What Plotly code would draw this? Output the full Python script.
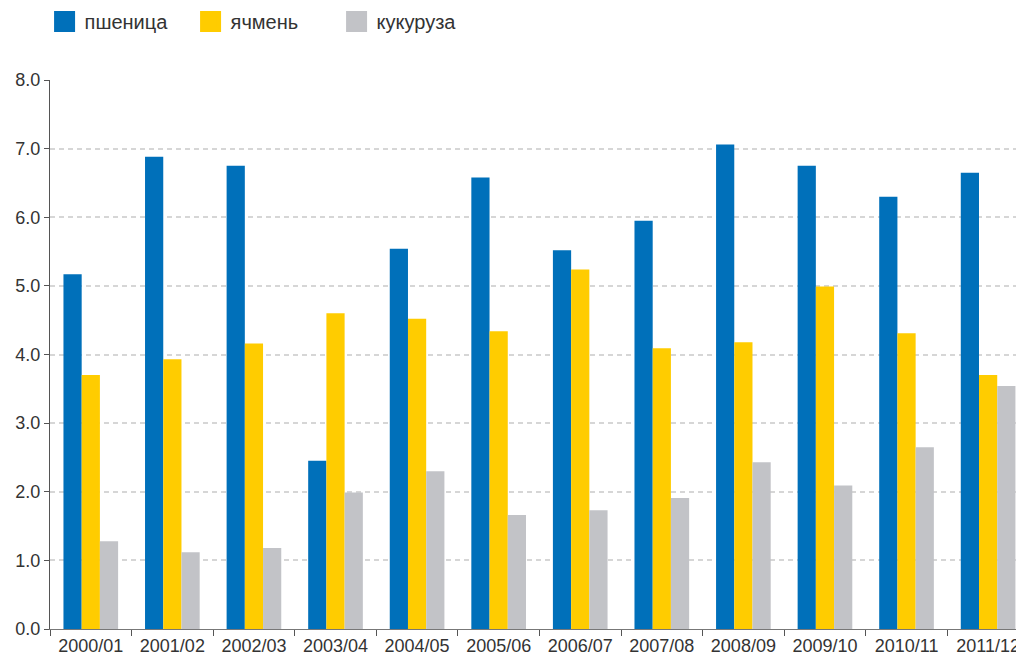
import plotly.graph_objects as go

seasons = ["2000/01", "2001/02", "2002/03", "2003/04", "2004/05", "2005/06",
           "2006/07", "2007/08", "2008/09", "2009/10", "2010/11", "2011/12"]
wheat = [5.17, 6.88, 6.75, 2.45, 5.54, 6.58, 5.52, 5.95, 7.06, 6.75, 6.30, 6.65]
barley = [3.70, 3.93, 4.16, 4.60, 4.52, 4.34, 5.24, 4.09, 4.18, 4.99, 4.31, 3.70]
corn = [1.28, 1.12, 1.18, 1.99, 2.30, 1.66, 1.73, 1.91, 2.43, 2.09, 2.65, 3.54]

names = ["пшеница", "ячмень", "кукуруза"]
colors = ["#0070BA", "#FFCC00", "#C2C3C7"]
series = [wheat, barley, corn]

FONT = "Liberation Sans, Arial, sans-serif"

fig = go.Figure()
for name, vals, col in zip(names, series, colors):
    fig.add_trace(go.Bar(x=seasons, y=vals, name=name, marker=dict(color=col, line=dict(width=0)),
                         showlegend=False, legendgroup=name))
# legend entries with larger square swatches
for name, col in zip(names, colors):
    fig.add_trace(go.Scatter(x=[None], y=[None], mode="markers", name=name, legendgroup=name,
                             marker=dict(symbol="square", size=16, color=col,
                                         line=dict(width=5, color=col))))

fig.update_layout(
    width=1016, height=655,
    margin=dict(l=42, r=0, t=72, b=34, autoexpand=False),
    paper_bgcolor="white", plot_bgcolor="white",
    barmode="group", bargap=0.33, bargroupgap=0,
    font=dict(family=FONT, size=18, color="#333333"),
    legend=dict(orientation="h", xref="container", yref="paper", x=0.036, y=1.142,
                xanchor="left", yanchor="top", font=dict(size=20, color="#333333"),
                entrywidth=101, entrywidthmode="pixels", bgcolor="rgba(0,0,0,0)",
                itemsizing="trace", traceorder="normal"),
    xaxis=dict(type="category", range=[-0.5, 11.44], tickson="boundaries", ticks="outside",
               ticklen=6, tickcolor="#555555", showline=True, linecolor="#777777", linewidth=1,
               showgrid=False, automargin=False, tickfont=dict(size=18, color="#333333")),
    yaxis=dict(range=[0, 8], dtick=1, tickformat=".1f", ticks="outside", ticklen=5,
               tickcolor="#555555", showline=True, linecolor="#555555", linewidth=1,
               showgrid=True, gridcolor="#D6D6D6", gridwidth=1.5, griddash="5px,4px",
               zeroline=False, automargin=False, tickfont=dict(size=18, color="#333333")),
)

fig.write_html("out.html")
